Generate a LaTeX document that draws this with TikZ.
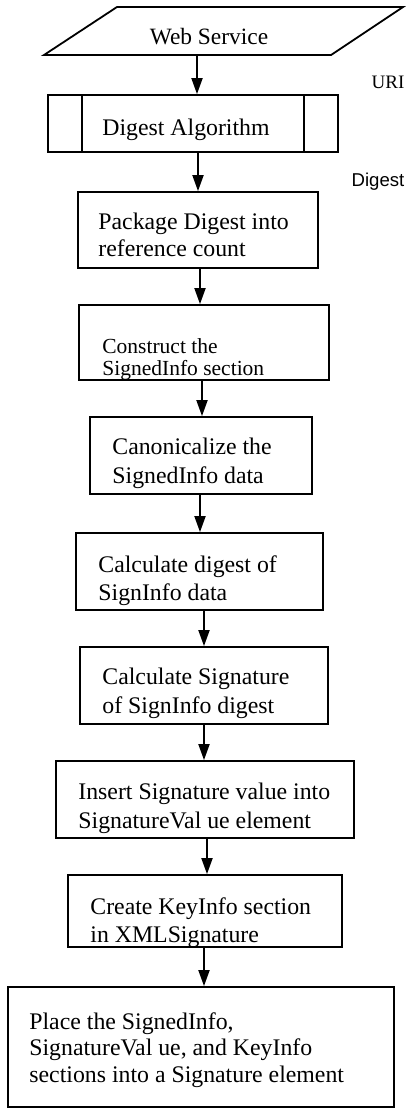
\documentclass[tikz,border=0pt]{standalone}
\usepackage{fontspec}
\setmainfont{Liberation Serif}
\newfontfamily\arialf{Liberation Sans}
\usetikzlibrary{arrows.meta}
\begin{document}
\begin{tikzpicture}[x=0.5pt,y=-0.5pt,
  box/.style={draw, line width=0.9pt, inner sep=0pt},
  txt/.style={anchor=north west, inner sep=0pt, align=left},
  lbl/.style={anchor=base, inner sep=0pt},
  arr/.style={line width=0.9pt, -{Triangle[width=5.5pt,length=8pt]}}]
\useasboundingbox (0,0) rectangle (412,1108);

% Web Service parallelogram
\draw[line width=0.9pt] (117,7) -- (403,7) -- (331,55) -- (44,55) -- cycle;
\node[lbl, font=\fontsize{11.7}{14}\selectfont] (ws) at (209,44) {Web Service};
\coordinate (wsb) at (197,55);

% Digest Algorithm (predefined process)
\node[box, minimum width=145pt, minimum height=28.5pt] (dalg) at (193,123.5) {};
\draw[line width=0.9pt] ([xshift=17.5pt]dalg.north west) -- ([xshift=17.5pt]dalg.south west);
\draw[line width=0.9pt] ([xshift=-17.5pt]dalg.north east) -- ([xshift=-17.5pt]dalg.south east);
\node[lbl, font=\fontsize{11.9}{14}\selectfont] (dalgt) at (186,135) {Digest Algorithm};

% side labels
\node[lbl, font=\fontsize{9.5}{11}\selectfont] (uri) at (388,88) {URI};
\node[lbl, font=\arialf\fontsize{9.3}{11}\selectfont] (dig) at (378,186) {Digest};

% boxes
\node[box, minimum width=120pt, minimum height=38pt] (b3) at (198,230) {};
\node[box, minimum width=125pt, minimum height=37.5pt] (b4) at (204,342.5) {};
\node[box, minimum width=111pt, minimum height=38.5pt] (b5) at (201,455.5) {};
\node[box, minimum width=123.5pt, minimum height=38.5pt] (b6) at (199.5,571.5) {};
\node[box, minimum width=124pt, minimum height=38.5pt] (b7) at (204,685.5) {};
\node[box, minimum width=149pt, minimum height=38.5pt] (b8) at (205,799.5) {};
\node[box, minimum width=137pt, minimum height=36pt] (b9) at (205,911) {};
\node[box, minimum width=193pt, minimum height=60pt] (b10) at (201,1047) {};

% texts
\node[txt, font=\fontsize{11.9}{13.5}\selectfont] (t3) at (98,213) {Package Digest into\\reference count};
\node[txt, font=\fontsize{10.75}{11}\selectfont] (t4) at (102,338) {Construct the\\SignedInfo section};
\node[txt, font=\fontsize{11.9}{14.5}\selectfont] (t5) at (112,438) {Canonicalize the\\SignedInfo data};
\node[txt, font=\fontsize{11.9}{14}\selectfont] (t6) at (98,555) {Calculate digest of\\SignInfo data};
\node[txt, font=\fontsize{11.9}{14.5}\selectfont] (t7) at (102,668) {Calculate Signature\\of SignInfo digest};
\node[txt, font=\fontsize{11.9}{14.5}\selectfont] (t8) at (78,783) {Insert Signature value into\\SignatureVal ue element};
\node[txt, font=\fontsize{11.9}{14}\selectfont] (t9) at (90,897) {Create KeyInfo section\\in XMLSignature};
\node[txt, font=\fontsize{11.9}{13.25}\selectfont] (t10) at (29,1012) {Place the SignedInfo,\\SignatureVal ue, and KeyInfo\\sections into a Signature element};

% connector x positions
\coordinate (c2) at (198,0);
\coordinate (c3) at (200,0);
\coordinate (c4) at (202,0);
\coordinate (c5) at (200,0);
\coordinate (c6) at (204,0);
\coordinate (c7) at (204,0);
\coordinate (c8) at (207,0);
\coordinate (c9) at (204,0);

\draw[arr] (wsb) -- (dalg.north -| wsb);
\draw[arr] (dalg.south -| c2) -- (b3.north -| c2);
\draw[arr] (b3.south -| c3) -- (b4.north -| c3);
\draw[arr] (b4.south -| c4) -- (b5.north -| c4);
\draw[arr] (b5.south -| c5) -- (b6.north -| c5);
\draw[arr] (b6.south -| c6) -- (b7.north -| c6);
\draw[arr] (b7.south -| c7) -- (b8.north -| c7);
\draw[arr] (b8.south -| c8) -- (b9.north -| c8);
\draw[arr] (b9.south -| c9) -- (b10.north -| c9);
\end{tikzpicture}
\end{document}
